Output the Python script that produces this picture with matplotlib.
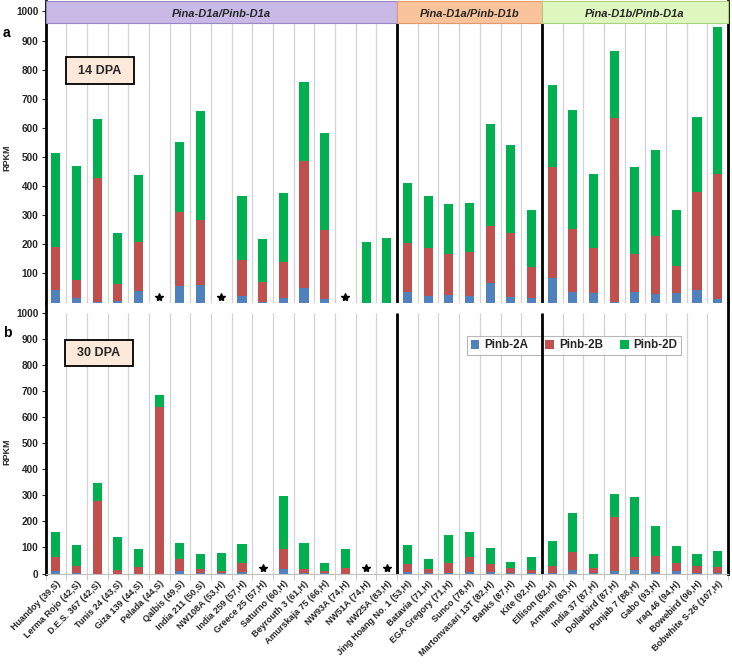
import numpy as np
import matplotlib
matplotlib.use("Agg")
import matplotlib.pyplot as plt
from matplotlib.patches import Rectangle

plt.rcParams['font.family'] = ['Liberation Sans', 'DejaVu Sans']

cultivars = ["Huandoy (39,S)", "Lerma Rojo (42,S)", "D.E.S. 367 (42,S)", "Tunis 24 (43,S)",
             "Giza 139 (44,S)", "Pelada (44,S)", "Qalbis (49,S)", "India 211 (50,S)",
             "NW108A (53,H)", "India 259 (57,H)", "Greece 25 (57,H)", "Saturno (60,H)",
             "Beyrouth 3 (61,H)", "Amurskaja 75 (66,H)", "NW93A (74,H)", "NW51A (74,H)",
             "NW25A (83,H)", "Jing Hoang No. 1 (53,H)", "Batavia (71,H)", "EGA Gregory (71,H)",
             "Sunco (78,H)", "Martonvasari 13T (82,H)", "Banks (87,H)", "Kite (92,H)",
             "Ellison (82,H)", "Arnhem (83,H)", "India 37 (87,H)", "Dollarbird (87,H)",
             "Punjab 7 (88,H)", "Gabo (93,H)", "Iraq 46 (94,H)", "Bowebird (96,H)",
             "Bobwhite S-26 (107,H)"]
groups = ["Pina-D1a/Pinb-D1a", "Pina-D1a/Pinb-D1b", "Pina-D1b/Pinb-D1a"]
group_sizes = [17, 7, 9]
series = ["Pinb-2A", "Pinb-2B", "Pinb-2D"]
nan = np.nan

# 14 DPA
a_2A = [43, 17, 2, 5, 41, nan, 57, 59, nan, 23, 3, 15, 51, 11, nan, 0, 0,
        37, 23, 26, 23, 66, 20, 15,
        83, 35, 31, 2, 36, 30, 31, 43, 11]
a_2B = [148, 62, 426, 58, 168, nan, 253, 224, nan, 123, 66, 123, 435, 238, nan, 0, 0,
        166, 165, 139, 151, 196, 219, 107,
        383, 216, 157, 631, 131, 198, 96, 337, 432]
a_2D = [323, 390, 203, 176, 230, nan, 241, 374, nan, 221, 149, 237, 273, 332, nan, 209, 221,
        209, 179, 174, 169, 352, 303, 196,
        283, 410, 253, 232, 299, 297, 192, 258, 502]
# 30 DPA
b_2A = [9, 3, 0, 0, 0, 0, 8, 2, 2, 4, nan, 17, 2, 2, 0, nan, nan,
        4, 2, 3, 6, 5, 3, 2,
        3, 14, 2, 8, 12, 5, 8, 3, 3]
b_2B = [55, 25, 279, 13, 24, 638, 47, 16, 8, 36, nan, 78, 17, 8, 21, nan, nan,
        32, 16, 39, 58, 33, 18, 10,
        24, 69, 20, 210, 51, 63, 32, 26, 23]
b_2D = [96, 81, 68, 127, 70, 47, 63, 58, 68, 72, nan, 204, 98, 32, 74, nan, nan,
        72, 37, 105, 94, 59, 23, 53,
        99, 150, 51, 88, 229, 115, 66, 45, 62]

colors = ["#4F81BD", "#C0504D", "#00B050"]
n = len(cultivars)
x = np.arange(n)
W, H = 732, 664
fig = plt.figure(figsize=(W / 100, H / 100), dpi=100)

left = 45.5 / W
width = 682.5 / W
axa = fig.add_axes([left, (H - 302.5) / H, width, 301.5 / H])
axb = fig.add_axes([left, (H - 573.5) / H, width, 270.9 / H])

bounds = np.cumsum(group_sizes)[:-1] - 0.5
header_lo, header_hi = 960, 1036
TXT = "#262626"


def draw(ax, vals, grid_top, ytop):
    A, B, D = [np.array(v, dtype=float) for v in vals]
    ax.set_xlim(-0.5, n - 0.5)
    ax.set_ylim(0, ytop)
    ax.vlines(np.arange(n - 1) + 0.5, 0, grid_top, color="#D3D3D3", lw=0.9, zorder=0)
    ok = ~np.isnan(A)
    bw = 0.44
    ax.bar(x[ok], A[ok], bw, color=colors[0], label=series[0], zorder=2)
    ax.bar(x[ok], B[ok], bw, bottom=A[ok], color=colors[1], label=series[1], zorder=2)
    ax.bar(x[ok], D[ok], bw, bottom=A[ok] + B[ok], color=colors[2], label=series[2], zorder=2)
    ax.plot(x[~ok], np.full((~ok).sum(), 20), marker="*", ls="none", color="black",
            ms=6, zorder=3)
    ax.vlines(bounds, 0, grid_top, color="black", lw=2, zorder=6)
    ax.spines["top"].set_visible(False)
    ax.spines["left"].set_linewidth(2)
    ax.spines["right"].set_linewidth(2)
    ax.spines["bottom"].set_color("#BFBFBF")
    ax.tick_params(axis="y", labelsize=7.2, length=3, width=0.8, colors=TXT,
                   labelcolor=TXT, pad=2)
    ax.set_ylabel("RPKM", fontsize=6.5, fontweight="bold", labelpad=4, color=TXT)


draw(axa, [a_2A, a_2B, a_2D], header_lo, header_hi)
draw(axb, [b_2A, b_2B, b_2D], 1000, 1040)

axa.set_yticks(np.arange(100, 1001, 100))
axb.set_yticks(np.arange(0, 1001, 100))
for ax in (axa, axb):
    for lab in ax.get_yticklabels():
        lab.set_fontweight("bold")
axa.set_xticks([])
axa.yaxis.set_label_coords(-0.05, 0.48)
axb.yaxis.set_label_coords(-0.05, 0.45)

# x labels
axb.set_xticks(x)
axb.set_xticklabels(cultivars, rotation=45, ha="right", rotation_mode="anchor",
                    fontsize=6.5, fontweight="bold", color=TXT)
axb.tick_params(axis="x", length=0, pad=4)
axb.set_xticks(np.arange(n + 1) - 0.5, minor=True)
axb.tick_params(axis="x", which="minor", length=4, color="#BFBFBF")

# header
hcols = ["#C8B9E6", "#F9C39C", "#DDF7BE"]
hedge = ["#9A88C6", "#E39A68", "#A9D27E"]
start = -0.5
for g, sz, fc, ec in zip(groups, group_sizes, hcols, hedge):
    axa.add_patch(Rectangle((start, header_lo), sz, header_hi - header_lo, facecolor=fc,
                            edgecolor=ec, lw=0.8, zorder=8, clip_on=False))
    axa.text(start + sz / 2, (header_lo + header_hi) / 2 - 6, g, ha="center", va="center",
             fontsize=8, style="italic", fontweight="bold", color=TXT, zorder=9)
    start += sz

# DPA boxes
for (x0, y0, x1, y1, t) in [(66, 57.5, 134, 83.5, "14 DPA"), (65, 340, 133, 365.5, "30 DPA")]:
    fig.patches.append(Rectangle((x0 / W, 1 - y1 / H), (x1 - x0) / W, (y1 - y0) / H,
                                 transform=fig.transFigure, facecolor="#FDE9D9",
                                 edgecolor="black", lw=1.3, zorder=10))
    fig.text((x0 + x1) / 2 / W, 1 - (y0 + y1) / 2 / H, t, ha="center", va="center",
             fontsize=9, fontweight="bold", zorder=11, color=TXT)

# panel letters
fig.text(3 / W, 1 - 33 / H, "a", fontsize=10, fontweight="bold", va="center")
fig.text(3 / W, 1 - 333 / H, "b", fontsize=10, fontweight="bold", va="center")

# legend
leg = axb.legend(loc="upper left", bbox_to_anchor=((467 - 45.5) / 682.5, (573.5 - 336) / 270.9),
                 ncol=3, fontsize=8.4, frameon=True, fancybox=False, edgecolor="#A6A6A6",
                 handlelength=0.75, handleheight=0.75, handletextpad=0.4, columnspacing=1.5,
                 borderpad=0.3, borderaxespad=0)
for t in leg.get_texts():
    t.set_fontweight("bold")
    t.set_color(TXT)
leg.get_frame().set_linewidth(0.8)
leg.set_zorder(4)

fig.savefig("out.png", dpi=100)
